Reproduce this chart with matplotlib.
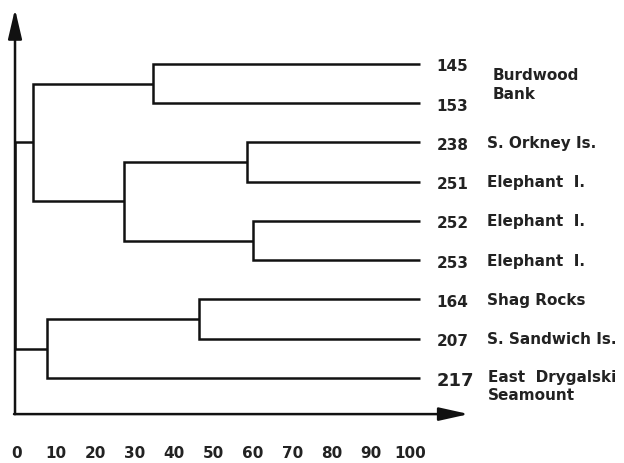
import matplotlib
matplotlib.use("Agg")
import matplotlib.pyplot as plt

# ---- data ----
leaf_ids = ["145", "153", "238", "251", "252", "253", "164", "207", "217"]
leaf_names = ["Burdwood\nBank", None, "S. Orkney Is.", "Elephant  I.", "Elephant  I.",
              "Elephant  I.", "Shag Rocks", "S. Sandwich Is.", "East  Drygalski\nSeamount"]
# merges: (left child, right child, height); leaves are 0..8, new clusters 9..
merges = [
    (0, 1, 35.0),    # 9  Burdwood Bank
    (2, 3, 58.8),    # 10
    (4, 5, 60.5),    # 11
    (6, 7, 46.8),    # 12 Shag / Sandwich
    (10, 11, 27.7),  # 13
    (9, 13, 4.6),    # 14
    (12, 8, 8.0),    # 15
    (14, 15, 0.0),   # 16 root
]
leaf_end = 102.8
tick_values = [0, 10, 20, 30, 40, 50, 60, 70, 80, 90, 100]

plt.rcParams['font.family'] = ['DejaVu Sans']
fig = plt.figure(figsize=(6.24, 4.64), dpi=100)
ax = fig.add_axes([0, 0, 1, 1])
ax.set_xlim(-3.81, 154.57)
ax.set_ylim(10.166, -1.656)
ax.axis('off')

lw = 1.8
col = '#111111'
tcol = '#222222'
fs = 11
n = len(leaf_ids)
pos = {i: (leaf_end, float(i)) for i in range(n)}
for k, (a, b, h) in enumerate(merges):
    xa, ya = pos[a]
    xb, yb = pos[b]
    ax.plot([xa, h, h, xb], [ya, ya, yb, yb], color=col, lw=lw,
            solid_joinstyle='miter', solid_capstyle='butt')
    pos[n + k] = (h, (ya + yb) / 2)

# axes arrows
ax.annotate('', xy=(0, -1.40), xytext=(0, 8.92),
            arrowprops=dict(arrowstyle='-|>,head_length=1.8,head_width=0.42',
                            color=col, lw=lw, shrinkA=0, shrinkB=0, mutation_scale=10))
ax.annotate('', xy=(115.2, 8.92), xytext=(-0.25, 8.92),
            arrowprops=dict(arrowstyle='-|>,head_length=1.8,head_width=0.4',
                            color=col, lw=lw, shrinkA=0, shrinkB=0, mutation_scale=10))

# tick labels
for v in tick_values:
    ax.text(v + 0.4, 9.9, str(v), ha='center', va='center', fontsize=fs,
            fontweight='bold', color=tcol)

# leaf labels
for i, (lid, name) in enumerate(zip(leaf_ids, leaf_names)):
    nfs = 13 if lid == "217" else fs
    ax.text(107.0, i + 0.05, lid, ha='left', va='center', fontsize=nfs,
            fontweight='bold', color=tcol)
    if name is None:
        continue
    if i == 0:
        ax.text(121.2, 0.5, name, ha='left', va='center', fontsize=fs,
                fontweight='bold', color=tcol, linespacing=1.35)
    elif '\n' in name:
        ax.text(120.0, i - 0.24, name, ha='left', va='top', fontsize=fs,
                fontweight='bold', color=tcol, linespacing=1.3)
    else:
        ax.text(119.8, i, name, ha='left', va='center', fontsize=fs,
                fontweight='bold', color=tcol)

fig.savefig('out.png', dpi=100, facecolor='white')
